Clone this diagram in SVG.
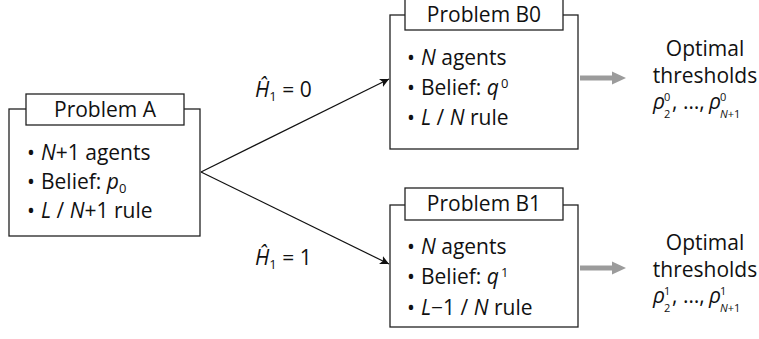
<svg xmlns="http://www.w3.org/2000/svg" width="759" height="339" viewBox="0 0 759 339">
  <style>
    text { font-family: "Open Sans", "Liberation Sans", sans-serif; font-size: 21px; fill: #111; }
    .i { font-style: italic; }
    .sm { font-size: 13px; }
    .ix { font-size: 11px; }
    .box { fill: #fff; stroke: #222; stroke-width: 1.3; }
    .edge { stroke: #111; stroke-width: 1.2; fill: none; }
    .fat { stroke: #9b9b9b; stroke-width: 5; fill: none; }
  </style>
  <defs>
    <marker id="tip" viewBox="0 0 10 10" refX="10" refY="5" markerWidth="9" markerHeight="9" markerUnits="userSpaceOnUse" orient="auto">
      <path d="M0,0 L10,5 L0,10 L2.5,5 Z" fill="#111"/>
    </marker>
  </defs>

  <!-- Problem A -->
  <g id="problemA">
    <rect class="box" x="9" y="109" width="191" height="127"/>
    <rect class="box" x="26" y="94" width="158" height="31"/>
    <text x="105" y="117" text-anchor="middle">Problem A</text>
    <text x="27" y="160">•</text>
    <text x="41" y="160"><tspan class="i">N</tspan>+1 agents</text>
    <text x="27" y="189">•</text>
    <text x="41" y="189">Belief: <tspan class="i">p</tspan><tspan class="sm" dy="4">0</tspan></text>
    <text x="27" y="218">•</text>
    <text x="41" y="218"><tspan class="i">L</tspan> / <tspan class="i">N</tspan>+1 rule</text>
  </g>

  <!-- Problem B0 -->
  <g id="problemB0">
    <rect class="box" x="390" y="15" width="188" height="134"/>
    <rect class="box" x="405" y="-2" width="158" height="32"/>
    <text x="484" y="22" text-anchor="middle">Problem B0</text>
    <text x="407" y="65">•</text>
    <text x="421" y="65"><tspan class="i">N</tspan> agents</text>
    <text x="407" y="95">•</text>
    <text x="421" y="95">Belief: <tspan class="i">q</tspan><tspan class="sm" dx="2" dy="-7">0</tspan></text>
    <text x="407" y="125">•</text>
    <text x="421" y="125"><tspan class="i">L</tspan> / <tspan class="i">N</tspan> rule</text>
  </g>

  <!-- Problem B1 -->
  <g id="problemB1">
    <rect class="box" x="390" y="205" width="188" height="122"/>
    <rect class="box" x="405" y="188" width="158" height="32"/>
    <text x="484" y="211" text-anchor="middle">Problem B1</text>
    <text x="407" y="254">•</text>
    <text x="421" y="254"><tspan class="i">N</tspan> agents</text>
    <text x="407" y="284">•</text>
    <text x="421" y="284">Belief: <tspan class="i">q</tspan><tspan class="sm" dx="2" dy="-7">1</tspan></text>
    <text x="407" y="315">•</text>
    <text x="421" y="315"><tspan class="i">L</tspan>−1 / <tspan class="i">N</tspan> rule</text>
  </g>

  <!-- Thresholds obtained from B0 -->
  <g id="resultB0">
    <text x="705" y="56" text-anchor="middle">Optimal</text>
    <text x="705" y="83" text-anchor="middle">thresholds</text>
    <text class="i" x="653" y="109">ρ</text>
    <text class="ix" x="664" y="101">0</text>
    <text class="ix" x="664" y="118">2</text>
    <text x="672" y="109">, …,</text>
    <text class="i" x="709" y="109">ρ</text>
    <text class="ix" x="720" y="101">0</text>
    <text class="ix" x="720" y="118"><tspan class="i">N</tspan>+1</text>
  </g>

  <!-- Thresholds obtained from B1 -->
  <g id="resultB1">
    <text x="705" y="250" text-anchor="middle">Optimal</text>
    <text x="705" y="277" text-anchor="middle">thresholds</text>
    <text class="i" x="653" y="303">ρ</text>
    <text class="ix" x="664" y="295">1</text>
    <text class="ix" x="664" y="312">2</text>
    <text x="672" y="303">, …,</text>
    <text class="i" x="709" y="303">ρ</text>
    <text class="ix" x="720" y="295">1</text>
    <text class="ix" x="720" y="312"><tspan class="i">N</tspan>+1</text>
  </g>

  <!-- Connectors -->
  <g id="connectors">
    <line class="edge" x1="201" y1="172" x2="389" y2="79" marker-end="url(#tip)"/>
    <line class="edge" x1="201" y1="172" x2="389" y2="264" marker-end="url(#tip)"/>
    <text x="255" y="97"><tspan class="i">Ĥ</tspan><tspan class="sm" dy="4">1</tspan><tspan dy="-4"> = 0</tspan></text>
    <text x="255" y="265"><tspan class="i">Ĥ</tspan><tspan class="sm" dy="4">1</tspan><tspan dy="-4"> = 1</tspan></text>
    <line class="fat" x1="580" y1="78" x2="613" y2="78"/>
    <path d="M612,71.5 L626,78 L612,84.5 Z" fill="#9b9b9b"/>
    <line class="fat" x1="580" y1="268" x2="613" y2="268"/>
    <path d="M612,261.5 L626,268 L612,274.5 Z" fill="#9b9b9b"/>
  </g>
</svg>
